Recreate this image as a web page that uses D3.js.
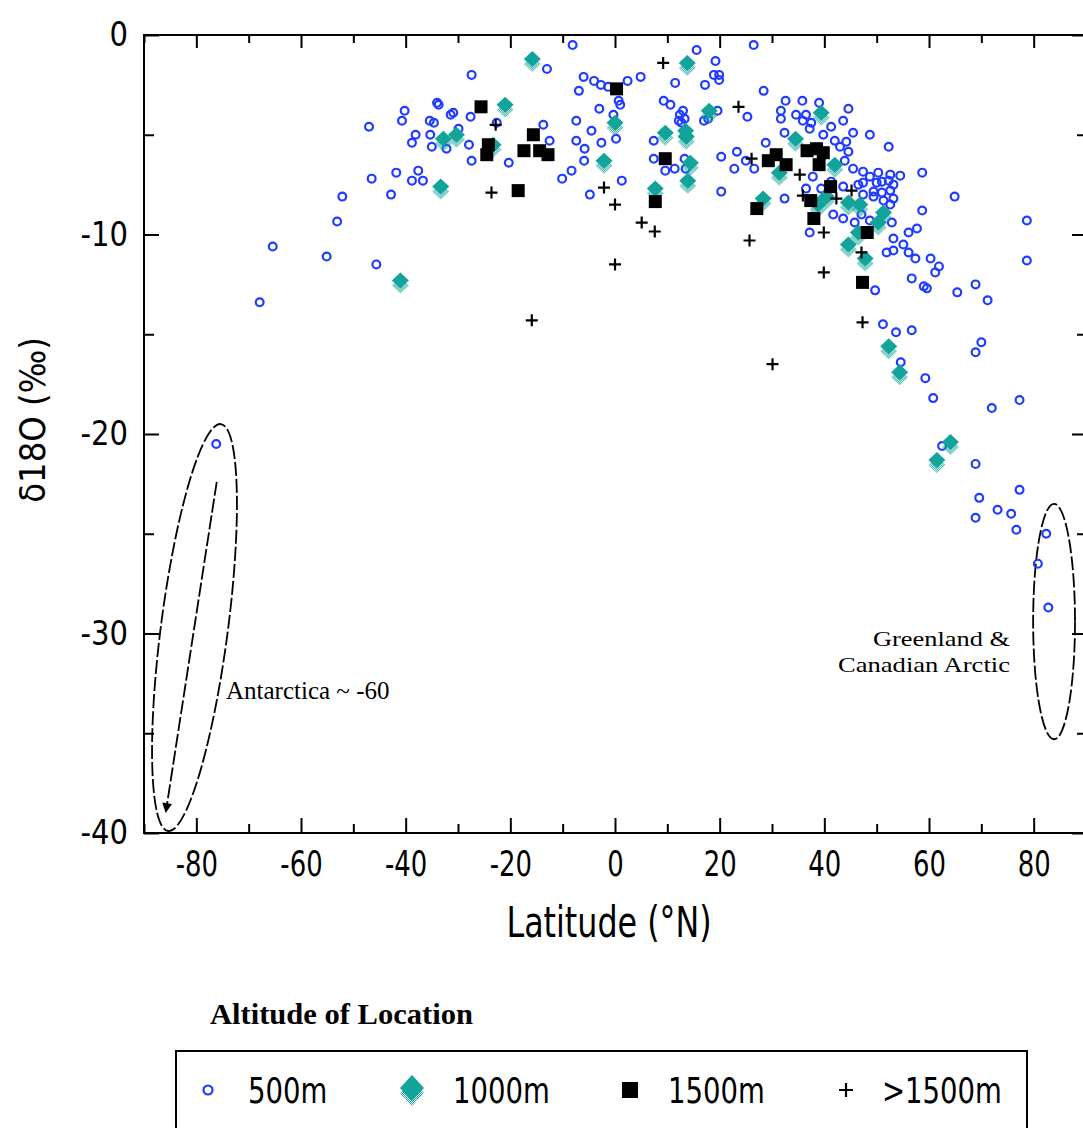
<!DOCTYPE html>
<html>
<head>
<meta charset="utf-8">
<script src="https://cdn.jsdelivr.net/npm/d3@7"></script>
<style>
  body { margin: 0; background: #fff; }
  svg { display: block; }
  .sans { font-family: "Liberation Sans Narrow", "Arial Narrow", "DejaVu Sans Condensed", sans-serif; }
  .serif { font-family: "Liberation Serif", "DejaVu Serif", serif; }
</style>
</head>
<body>
<svg id="chart" width="1083" height="1128"></svg>
<script>
// Precipitation δ18O (‰) against station latitude (°N), grouped by station altitude.
const altitudeLabels = ["500m", "1000m", "1500m", ">1500m"];

// [latitude, δ18O]
const stations500m = [
  [-67.9,-13.4],[-65.4,-10.6],[-55.1,-11.1],[-53.1,-9.35],[-52.1,-8.1],[-47.0,-4.6],[-46.5,-7.2],[-45.6,-11.5],
  [-8.1,-0.5],[-13.0,-1.7],[-27.4,-2.0],[-6.0,-2.1],[-4.0,-2.3],[-2.7,-2.5],[-1.3,-2.6],[-6.9,-2.8],
  [-34.0,-3.4],[-33.7,-3.5],[-40.2,-3.8],[-40.7,-4.3],[-31.4,-4.0],[-30.9,-3.9],[-27.6,-4.1],[-3.0,-3.7],
  [-35.4,-4.3],[-34.6,-4.4],[-22.6,-4.4],[-13.7,-4.5],[-7.4,-4.3],[-29.9,-4.7],[-38.1,-5.0],[-38.8,-5.4],
  [-35.3,-5.0],[-35.0,-5.6],[-32.2,-5.7],[-27.9,-5.5],[-12.5,-5.3],[-27.4,-6.3],[-20.3,-6.4],[-10.1,-7.2],
  [-8.3,-6.8],[-7.4,-5.3],[-5.8,-5.7],[-4.5,-4.8],[-2.6,-5.4],[-5.9,-6.3],[-4.8,-8.0],[-41.8,-6.9],
  [-37.6,-6.8],[-38.8,-7.3],[-36.7,-7.3],[-42.8,-8.0],
  [15.6,-0.75],[26.5,-0.5],[19.2,-1.3],[18.9,-2.0],[19.9,-2.0],[19.9,-2.25],[17.2,-2.5],[4.9,-2.1],[2.4,-2.3],[11.5,-2.4],
  [0.7,-3.3],[1.0,-3.5],[28.4,-2.8],[9.3,-3.3],[10.6,-3.5],[25.3,-4.1],[13.0,-3.8],[12.4,-4.0],[13.3,-4.2],[12.2,-4.3],[12.7,-4.4],
  [19.6,-3.8],[17.0,-4.3],[17.8,-4.2],[-0.3,-4.0],[0.2,-5.2],[7.4,-5.3],[7.4,-6.2],[9.6,-6.8],[11.4,-6.7],[13.3,-6.2],[13.5,-6.7],
  [1.3,-7.3],[20.3,-6.1],[20.3,-7.85],[23.3,-5.85],[22.8,-6.7],[25.0,-6.3],[26.6,-6.7],[28.8,-5.4],[32.4,-8.2],[37.2,-9.9],
  [32.6,-3.3],[35.8,-3.3],[39.0,-3.4],[31.7,-3.8],[31.7,-4.2],[34.6,-4.0],[36.5,-4.0],[35.9,-4.3],[37.5,-4.4],[37.2,-4.7],
  [44.6,-3.7],[43.6,-4.3],[41.3,-4.6],[39.8,-5.0],[42.0,-5.3],[43.0,-5.6],[44.2,-5.35],[45.5,-4.9],[48.7,-5.0],[52.3,-5.6],[32.4,-4.9],
  [44.6,-5.85],[43.9,-6.3],[45.5,-6.7],[37.8,-7.1],[36.5,-7.7],[39.4,-7.7],[41.3,-7.35],[43.6,-7.6],
  [47.4,-6.85],[48.7,-7.1],[50.3,-6.9],[51.0,-7.35],[52.3,-7.3],[47.4,-7.4],[49.4,-7.85],[51.0,-7.9],[52.6,-7.8],
  [41.7,-9.0],[43.6,-9.2],[45.8,-9.4],[47.1,-9.0],[48.7,-9.3],
  [52.6,-7.0],[54.5,-7.05],[58.7,-6.9],[53.2,-7.5],[46.5,-7.5],[47.4,-8.0],[49.4,-8.1],[53.2,-8.2],[51.3,-8.3],[52.6,-8.5],[50.0,-7.4],
  [64.9,-8.1],[58.7,-8.8],[52.9,-9.4],[56.1,-9.9],[57.7,-9.7],
  [53.2,-10.2],[55.1,-10.5],[51.9,-10.9],[53.2,-10.8],[56.1,-10.9],[57.4,-11.2],[60.3,-11.2],[61.9,-11.6],[61.2,-11.9],[56.7,-12.2],
  [59.0,-12.6],[59.6,-12.7],[68.9,-12.5],[65.4,-12.9],[71.2,-13.3],[49.7,-12.8],[51.2,-14.5],[53.7,-14.9],[56.7,-14.8],
  [78.7,-9.3],[78.7,-11.3],
  [70.0,-15.4],[68.9,-15.9],[54.6,-16.4],[59.3,-17.2],[60.8,-18.2],[72.0,-18.7],[77.3,-18.3],[62.5,-20.6],[68.9,-21.5],
  [77.3,-22.8],[69.6,-23.2],[73.1,-23.8],[75.7,-24.0],[68.9,-24.2],[76.7,-24.8],[82.4,-25.0],[80.8,-26.5],[82.8,-28.7],
  [-76.2,-20.5]
];

const stations1000m = [
  [-15.8,-1.3],[-21.0,-3.6],[-30.3,-5.1],[-32.8,-5.3],[-23.3,-5.6],[-2.1,-6.4],[-33.3,-7.7],[-41.0,-12.4],
  [13.8,-1.5],[18.0,-3.9],[0.0,-4.5],[9.6,-5.0],[13.5,-4.9],[13.6,-5.2],[14.4,-6.5],[13.9,-7.4],[7.7,-7.8],
  [28.3,-8.3],[31.4,-7.0],[34.5,-5.3],[39.4,-4.0],[42.0,-6.6],[40.4,-8.2],[38.8,-8.6],[44.6,-8.5],[46.8,-8.6],
  [51.3,-9.0],[50.3,-9.5],[44.6,-10.6],[47.8,-11.3],[46.5,-10.0],
  [52.3,-15.7],[54.4,-17.0],[64.1,-20.5],[61.5,-21.4]
];

const stations1500m = [
  [-25.6,-3.6],[-24.2,-5.5],[-24.5,-6.0],[-15.6,-5.0],[-17.4,-5.8],[-14.4,-5.8],[-12.8,-6.0],[-18.5,-7.8],
  [0.3,-2.7],[9.6,-6.2],[7.7,-8.35],[27.1,-8.7],[30.8,-6.0],[29.3,-6.3],[32.7,-6.5],[36.7,-5.8],[38.5,-5.7],
  [39.8,-5.9],[39.0,-6.5],[41.2,-7.6],[37.4,-8.3],[38.0,-9.2],[48.2,-9.9],[47.3,-12.4]
];

const stationsAbove1500m = [
  [-22.8,-4.5],[-2.1,-7.65],[-23.6,-7.9],[9.2,-1.4],[23.6,-3.6],[0.0,-8.5],[5.1,-9.4],[7.6,-9.85],[0.0,-11.5],
  [26.1,-6.2],[25.7,-10.3],[35.3,-7.0],[35.9,-8.05],[39.9,-9.9],[39.9,-11.9],[42.3,-8.2],[45.2,-7.8],[47.1,-10.9],
  [47.3,-14.4],[-15.9,-14.3],[30.1,-16.5]
];

const xMajorTicks = [-80, -60, -40, -20, 0, 20, 40, 60, 80];
const xMinorTicks = [-90, -70, -50, -30, -10, 10, 30, 50, 70, 90];
const yMajorTicks = [0, -10, -20, -30, -40];
const yMinorTicks = [-5, -15, -25, -35];

// Annotation loops, in data units
const antarcticaLoop = { top: [-75.3, -19.5], bottom: [-85.4, -39.9], halfWidthLat: 6.4 };
const antarcticaArrow = { from: [-76.1, -22.4], to: [-85.8, -38.9] };
const arcticLoop = { center: [83.9, -29.4], radiusLat: 4.0, radiusD18O: 5.9 };

const BLUE = "#1f3cff";
const TEAL = "#12a39b";

const svg = d3.select("#chart");
const x = d3.scaleLinear().domain([-90, 90]).range([144, 1086]);
const y = d3.scaleLinear().domain([0, -40]).range([35, 833]);

// Condense a text horizontally by a factor, keeping its anchor
function squeeze(sel, factor) {
  sel.each(function () {
    const w = this.getComputedTextLength();
    if (w > 0) {
      d3.select(this).attr("textLength", w * factor).attr("lengthAdjust", "spacingAndGlyphs");
    }
  });
}

const defs = svg.append("defs");
const dots = defs.append("pattern").attr("id", "dots")
  .attr("patternUnits", "userSpaceOnUse").attr("width", 2).attr("height", 2);
dots.append("rect").attr("x", 0).attr("y", 0).attr("width", 1).attr("height", 1).attr("fill", TEAL);
dots.append("rect").attr("x", 1).attr("y", 1).attr("width", 1).attr("height", 1).attr("fill", TEAL);
defs.append("marker").attr("id", "arrowhead")
  .attr("viewBox", "0 0 10 10").attr("refX", 8).attr("refY", 5)
  .attr("markerUnits", "userSpaceOnUse")
  .attr("markerWidth", 12).attr("markerHeight", 10).attr("orient", "auto")
  .append("path").attr("d", "M0,0 L10,5 L0,10 Z").attr("fill", "#000");

const fmt = v => v < 0 ? "-" + Math.abs(v) : String(v);
const tickStyle = g => {
  g.select(".domain").remove();
  g.selectAll("line").attr("stroke", "#000").attr("stroke-width", 2);
};

// Axes: ticks point inward on all four sides
svg.append("g").attr("transform", `translate(0,${y(-40)})`)
  .call(d3.axisBottom(x).tickValues(xMajorTicks).tickSize(-15).tickPadding(17).tickFormat(fmt))
  .call(tickStyle)
  .call(g => g.selectAll("text").attr("class", "sans").attr("font-size", 36).attr("fill", "#000").call(squeeze, 0.8));
svg.append("g").attr("transform", `translate(0,${y(-40)})`)
  .call(d3.axisBottom(x).tickValues(xMinorTicks).tickSize(-9).tickFormat(""))
  .call(tickStyle);
svg.append("g").attr("transform", `translate(0,${y(0)})`)
  .call(d3.axisTop(x).tickValues(xMajorTicks).tickSize(-13).tickFormat(""))
  .call(tickStyle);
svg.append("g").attr("transform", `translate(0,${y(0)})`)
  .call(d3.axisTop(x).tickValues(xMinorTicks).tickSize(-8).tickFormat(""))
  .call(tickStyle);
svg.append("g").attr("transform", `translate(${x(-90)},0)`)
  .call(d3.axisLeft(y).tickValues(yMajorTicks).tickSize(-15).tickPadding(16).tickFormat(fmt))
  .call(tickStyle)
  .call(g => g.selectAll("text").attr("class", "sans").attr("font-size", 34).attr("fill", "#000").call(squeeze, 0.95));
svg.append("g").attr("transform", `translate(${x(-90)},0)`)
  .call(d3.axisLeft(y).tickValues(yMinorTicks).tickSize(-10).tickFormat(""))
  .call(tickStyle);
svg.append("g").attr("transform", `translate(${x(90)},0)`)
  .call(d3.axisRight(y).tickValues(yMajorTicks).tickSize(-14).tickFormat(""))
  .call(tickStyle);
svg.append("g").attr("transform", `translate(${x(90)},0)`)
  .call(d3.axisRight(y).tickValues(yMinorTicks).tickSize(-9).tickFormat(""))
  .call(tickStyle);

svg.append("rect")
  .attr("x", x(-90)).attr("y", y(0))
  .attr("width", x(90) - x(-90)).attr("height", y(-40) - y(0))
  .attr("fill", "none").attr("stroke", "#000").attr("stroke-width", 2);

// Axis titles
svg.append("text").attr("class", "sans")
  .attr("x", 609).attr("y", 937)
  .attr("text-anchor", "middle").attr("font-size", 42)
  .text("Latitude (°N)").call(squeeze, 0.84);
svg.append("text").attr("class", "sans")
  .attr("transform", `translate(45,${(y(0) + y(-40)) / 2 - 14}) rotate(-90)`)
  .attr("text-anchor", "middle").attr("font-size", 36)
  .text("δ18O (‰)");

// Annotation loops
const lineStyle = s => s.attr("fill", "none").attr("stroke", "#000")
  .attr("stroke-width", 1.8).attr("stroke-dasharray", "14,3");
{
  const tx = x(antarcticaLoop.top[0]), ty = y(antarcticaLoop.top[1]);
  const bx = x(antarcticaLoop.bottom[0]), by = y(antarcticaLoop.bottom[1]);
  const a = Math.hypot(bx - tx, by - ty) / 2;
  const b = x(antarcticaLoop.halfWidthLat) - x(0);
  const ang = Math.atan2(-(bx - tx), by - ty) * 180 / Math.PI;
  svg.append("ellipse")
    .attr("transform", `translate(${(tx + bx) / 2},${(ty + by) / 2}) rotate(${ang})`)
    .attr("rx", b).attr("ry", a).call(lineStyle);
  svg.append("line")
    .attr("x1", x(antarcticaArrow.from[0])).attr("y1", y(antarcticaArrow.from[1]))
    .attr("x2", x(antarcticaArrow.to[0])).attr("y2", y(antarcticaArrow.to[1]))
    .call(lineStyle).attr("marker-end", "url(#arrowhead)");
}
svg.append("ellipse")
  .attr("cx", x(arcticLoop.center[0])).attr("cy", y(arcticLoop.center[1]))
  .attr("rx", x(arcticLoop.radiusLat) - x(0))
  .attr("ry", y(-arcticLoop.radiusD18O) - y(0))
  .call(lineStyle);

svg.append("text").attr("class", "serif").attr("font-size", 25)
  .attr("x", 226).attr("y", 699).text("Antarctica ~ -60");
svg.append("text").attr("class", "serif").attr("font-size", 22)
  .attr("x", 1010).attr("y", 646).attr("text-anchor", "end")
  .attr("textLength", 137).attr("lengthAdjust", "spacingAndGlyphs").text("Greenland &");
svg.append("text").attr("class", "serif").attr("font-size", 22)
  .attr("x", 1010).attr("y", 672).attr("text-anchor", "end")
  .attr("textLength", 172).attr("lengthAdjust", "spacingAndGlyphs").text("Canadian Arctic");

// Marker painters
const drawCircle = (g, r) => g.append("circle").attr("r", r)
  .attr("fill", "none").attr("stroke", BLUE).attr("stroke-width", 2.2);
const drawDiamond = (g, w, h) => {
  const d = `M0,${-h} L${w},0 L0,${h} L${-w},0 Z`;
  g.append("path").attr("d", d).attr("transform", "translate(0,3)").attr("fill", "url(#dots)");
  g.append("path").attr("d", d).attr("transform", "translate(0,-2)").attr("fill", TEAL);
};
const drawSquare = (g, s) => g.append("rect")
  .attr("x", -s / 2).attr("y", -s / 2).attr("width", s).attr("height", s).attr("fill", "#000");
const drawPlus = (g, s) => g.append("path")
  .attr("d", `M${-s},0 H${s} M0,${-s} V${s}`)
  .attr("stroke", "#000").attr("stroke-width", 2.2).attr("fill", "none");

const plot = svg.append("g");
function layer(data, painter) {
  plot.append("g").selectAll("g").data(data).join("g")
    .attr("transform", d => `translate(${x(d[0])},${y(d[1])})`)
    .each(function () { painter(d3.select(this)); });
}
layer(stations500m, g => drawCircle(g, 3.9));
layer(stations1000m, g => drawDiamond(g, 8.5, 8));
layer(stations1500m, g => drawSquare(g, 13));
layer(stationsAbove1500m, g => drawPlus(g, 6));

// Legend
svg.append("text").attr("class", "serif").attr("font-size", 29).attr("font-weight", "bold")
  .attr("x", 210).attr("y", 1024)
  .attr("textLength", 263).attr("lengthAdjust", "spacingAndGlyphs")
  .text("Altitude of Location");
svg.append("rect").attr("x", 176).attr("y", 1051).attr("width", 851).attr("height", 130)
  .attr("fill", "none").attr("stroke", "#000").attr("stroke-width", 2);

const legendItems = [
  { label: altitudeLabels[0], mx: 208, tx: 248, paint: g => drawCircle(g, 4.5) },
  { label: altitudeLabels[1], mx: 412, tx: 453, paint: g => drawDiamond(g, 12, 13) },
  { label: altitudeLabels[2], mx: 630, tx: 668, paint: g => drawSquare(g, 16) },
  { label: altitudeLabels[3], mx: 846, tx: 882, paint: g => drawPlus(g, 7) }
];
const legendY = 1090;
const items = svg.append("g").selectAll("g").data(legendItems).join("g");
items.each(function (d) {
  const g = d3.select(this);
  d.paint(g.append("g").attr("transform", `translate(${d.mx},${legendY})`));
  g.append("text").attr("class", "sans").attr("font-size", 36)
    .attr("x", d.tx).attr("y", legendY + 13).text(d.label).call(squeeze, 0.85);
});
</script>
</body>
</html>
